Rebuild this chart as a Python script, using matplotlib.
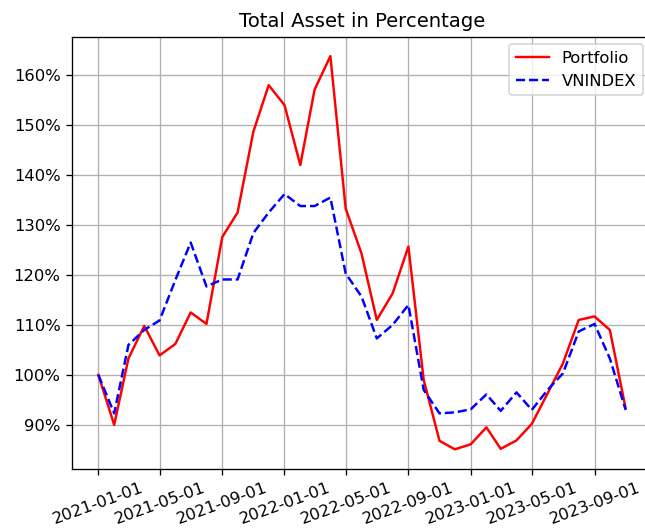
import matplotlib
matplotlib.use("Agg")
import matplotlib.pyplot as plt
import matplotlib.dates as mdates
from matplotlib.ticker import PercentFormatter
import pandas as pd

dates = pd.date_range("2021-01-01", "2023-11-01", freq="MS")

portfolio = [100, 90, 103.3, 109.8, 103.9, 106.2, 112.5, 110.2, 127.6, 132.5,
             148.7, 158, 154, 142, 157.1, 163.8, 133.3, 124.3, 111, 116.3,
             125.7, 99, 86.8, 85.1, 86.1, 89.5, 85.2, 86.9, 90.2, 96.3,
             102.3, 111, 111.7, 109, 93.3]

vnindex = [100, 92.3, 106, 109, 110.9, 119, 126.5, 117.7, 119.1, 119.1,
           128.4, 132.5, 136.2, 133.8, 133.8, 135.5, 120.3, 115.7, 107.3, 110,
           114, 97, 92.3, 92.5, 93.1, 96.1, 92.8, 96.5, 93, 97,
           100.3, 108.7, 110.2, 103.3, 93]

DPI = 118
fig = plt.figure(figsize=(645 / DPI, 529 / DPI), dpi=DPI)
ax = fig.add_subplot(111)
fig.subplots_adjust(left=72 / 645, right=652 / 645, top=1 - 36.5 / 529, bottom=1 - 469 / 529)

ax.plot(dates, portfolio, color="red", linestyle="-", label="Portfolio")
ax.plot(dates, vnindex, color="blue", linestyle="--", label="VNINDEX")

ax.set_title("Total Asset in Percentage")
ax.yaxis.set_major_formatter(PercentFormatter(decimals=0))
ax.xaxis.set_major_locator(mdates.MonthLocator(bymonth=[1, 5, 9]))
ax.xaxis.set_major_formatter(mdates.DateFormatter("%Y-%m-%d"))
plt.setp(ax.get_xticklabels(), rotation=20)
ax.grid(True)
ax.legend(loc="upper right", bbox_to_anchor=(643 / 645, 1 - 44 / 529),
          bbox_transform=fig.transFigure, borderaxespad=0)

fig.savefig("out.png", dpi=DPI)
